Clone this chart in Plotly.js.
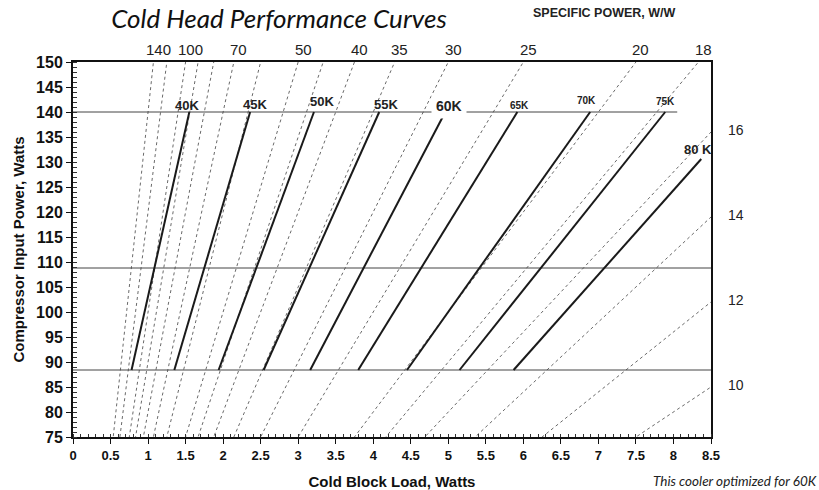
<!DOCTYPE html>
<html><head><meta charset="utf-8">
<script src="https://cdn.plot.ly/plotly-3.0.1.min.js"></script>
<style>html,body{margin:0;padding:0;background:#fff}</style>
</head><body><div id="chart" style="width:819px;height:490px"></div>
<script>
// Specific power lines (W/W): compressor power = SP x cold load
const specificPower = [140,120,100,90,80,70,60,50,45,40,35,30,25,20,18,16,14,12,10];
const topLabelPower = [140,100,70,50,40,35,30,25,20,18];
const rightLabelPower = [16,14,12,10];

// Cold head temperature curves
const tempNames = ['40K','45K','50K','55K','60K','65K','70K','75K','80 K'];
const loadLow  = [0.78,1.35,1.94,2.54,3.16,3.80,4.45,5.15,5.87];
const powerLow = [88.4,88.4,88.4,88.4,88.4,88.4,88.4,88.4,88.4];
const loadHigh  = [1.55,2.36,3.21,4.08,4.96,5.92,6.89,7.89,8.37];
const powerHigh = [140,140,140,140,140,140,140,140,130.6];

// Reference (horizontal) power lines
const refPower = [140,108.8,88.4];
const refLoadEnd = [8.05,8.5,8.5];

// label styling (pixel offsets / sizes)
const tempLabelShift = [[-2,7],[5,8],[8,11],[7,8],[4,6],[2,7],[-4,12],[0,11],[-3,10]];
const tempLabelSize = [13,13,13,13,14,10,10,10,13];

const AR = 'Liberation Sans, Arial, sans-serif';
const traces = [];
specificPower.forEach(sp => {
  traces.push({x:[0,8.5], y:[0, sp*8.5], mode:'lines', hoverinfo:'skip', showlegend:false,
    line:{color:'#6a6a6a', width:1, dash:'dot'}});
});
refPower.forEach((p,i) => {
  traces.push({x:[0, refLoadEnd[i]], y:[p,p], mode:'lines', showlegend:false,
    line:{color:'#444', width:1}});
});
tempNames.forEach((n,i) => {
  traces.push({x:[loadLow[i], loadHigh[i]], y:[powerLow[i], powerHigh[i]], mode:'lines', name:n, showlegend:false,
    line:{color:'#1a1a1a', width:2}});
});

const ann = [];
topLabelPower.forEach(sp => ann.push({x:150/sp, y:150, xref:'x', yref:'y', text:String(sp), showarrow:false,
  xshift:5, yshift:13, font:{family:AR, size:15, color:'#222'}}));
rightLabelPower.forEach(sp => ann.push({x:8.5, y:sp*8.5, xref:'x', yref:'y', text:String(sp), showarrow:false,
  xshift:25, yshift:2, font:{family:AR, size:14, color:'#222'}}));
tempNames.forEach((n,i) => {
  const a = {x:loadHigh[i], y:powerHigh[i], xref:'x', yref:'y', text:n, showarrow:false,
    xshift:tempLabelShift[i][0], yshift:tempLabelShift[i][1],
    font:{family:AR, size:tempLabelSize[i], color:'#222', weight:'bold'}};
  if (n === '60K') { a.bgcolor = '#fff'; a.borderpad = 4; }
  ann.push(a);
});
ann.push({xref:'paper', yref:'paper', x:(604-73)/638, y:1+(62-13)/375, xanchor:'center', yanchor:'middle',
  text:'SPECIFIC POWER, W/W', showarrow:false,
  font:{family:AR, size:12.5, color:'#222', weight:'bold'}});
ann.push({xref:'paper', yref:'paper', x:(735-73)/638, y:-(481-437)/375, xanchor:'center', yanchor:'middle',
  text:'This cooler optimized for 60K', showarrow:false,
  font:{family:'Lato, Open Sans, sans-serif', size:13.5, color:'#222', style:'italic'}});

const layout = {
  width:819, height:490,
  margin:{l:73, r:108, t:62, b:53},
  paper_bgcolor:'#fff', plot_bgcolor:'#fff',
  title:{text:'Cold Head Performance Curves', x:279/819, xref:'container', xanchor:'center',
    y:1-19/490, yref:'container', yanchor:'middle',
    font:{family:'Lato, Open Sans, sans-serif', size:26, color:'#111', style:'italic'}},
  xaxis:{range:[0,8.5], dtick:0.5, tick0:0, showgrid:false, zeroline:false,
    showline:true, mirror:true, linecolor:'#111', linewidth:2,
    ticks:'outside', ticklen:5, tickcolor:'#111', tickwidth:1,
    minor:{dtick:0.1, ticks:'inside', ticklen:3, tickcolor:'#333', showgrid:false},
    tickfont:{family:AR, size:13, color:'#111', weight:'bold'},
    title:{text:'Cold Block Load, Watts', standoff:15, font:{family:AR, size:15, color:'#111', weight:'bold'}}},
  yaxis:{range:[75,150], dtick:5, tick0:75, showgrid:false, zeroline:false,
    showline:true, mirror:true, linecolor:'#111', linewidth:2,
    ticks:'outside', ticklen:5, tickcolor:'#111', tickwidth:1,
    minor:{dtick:1, ticks:'inside', ticklen:4, tickcolor:'#333', showgrid:false},
    tickfont:{family:AR, size:16, color:'#111', weight:'bold'},
    title:{text:'Compressor Input Power, Watts', standoff:8, font:{family:AR, size:15, color:'#111', weight:'bold'}}},
  annotations: ann,
  showlegend:false
};
Plotly.newPlot('chart', traces, layout, {displayModeBar:false, staticPlot:true});
</script></body></html>
